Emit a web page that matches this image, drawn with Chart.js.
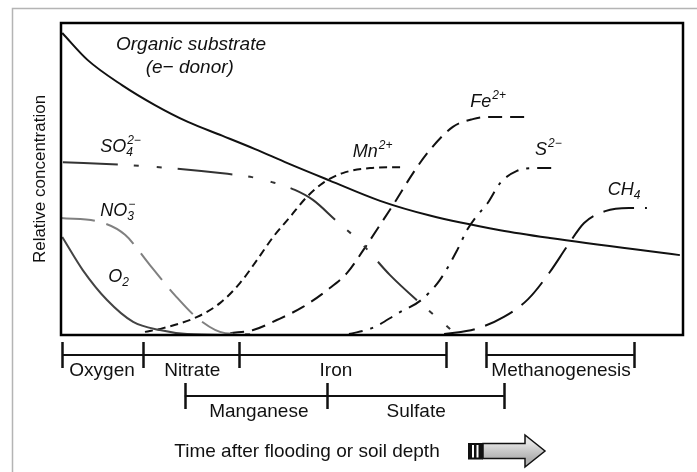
<!DOCTYPE html>
<html>
<head>
<meta charset="utf-8">
<script src="https://cdn.jsdelivr.net/npm/chart.js@4"></script>
<style>
  html, body { margin: 0; padding: 0; background: #fff; }
  canvas { display: block; }
</style>
</head>
<body>
<canvas id="chart" width="697" height="472"></canvas>
<script>
// Redox sequence after flooding, conceptual curves (x, y both 0..100)

const organicX = [0.2, 4.3, 9.8, 15.1, 20.4, 25.9, 31.2, 36.5, 43.2, 51.3, 59.3, 70.6, 78.6, 99.5];
const organicY = [96.8, 88.1, 80.1, 73.7, 68.3, 63.9, 59.6, 55.0, 49.5, 43.0, 38.3, 33.6, 31.1, 25.6];

const o2X = [0.2, 3.5, 7.4, 11.6, 15.9, 20.3, 28];
const o2Y = [31.4, 20.8, 11.2, 4.2, 1.6, 0.3, 0];

const no3X = [0, 6.3, 10.3, 14.3, 18.3, 22.3, 26.4, 30.4];
const no3Y = [37.5, 36.2, 32.1, 22.4, 12.8, 4.8, 0.6, 0.3];

const so4X = [0.3, 10.3, 17.5, 25.6, 30.7, 33.9, 37.6, 40.5, 44.1, 48.1, 52.9, 57.7, 60.9, 63.3];
const so4Y = [55.4, 54.5, 53.5, 51.9, 50.6, 49.0, 46.5, 43.3, 36.9, 29.8, 19.2, 10.3, 4.8, 0.6];

const mnX = [13.5, 16.4, 21.9, 25.6, 28.8, 31.5, 34.1, 36.8, 39.5, 42.1, 45.3, 49.7, 55.0];
const mnY = [1.0, 2.2, 5.8, 10.3, 16.7, 24.0, 31.4, 37.8, 44.2, 48.7, 51.9, 53.5, 53.8];

const feX = [27.2, 30.9, 34.7, 38.9, 42.8, 46.0, 48.6, 51.3, 54.0, 56.6, 59.3, 63.0, 66.2, 69.0, 75.1];
const feY = [0.6, 1.6, 4.8, 9.0, 14.4, 19.9, 27.2, 35.3, 43.6, 51.9, 59.3, 66.7, 69.2, 69.9, 69.9];

const sX = [46.3, 50.0, 54.3, 57.9, 60.9, 63.7, 65.3, 66.7, 68.6, 70.6, 73.3, 75.9, 79.9];
const sY = [0.3, 2.2, 7.1, 11.2, 17.6, 27.2, 33.7, 37.8, 42.3, 48.7, 52.6, 53.5, 53.5];

const ch4X = [61.6, 66.6, 71.2, 75.1, 78.6, 81.5, 84.1, 87.5, 91.3, 94.2];
const ch4Y = [0.3, 1.9, 5.8, 11.5, 20.2, 28.8, 35.9, 39.7, 40.7, 40.7];

// curve labels: [text, subscript, superscript, x, y(baseline)]
const curveLabels = [
  ['SO', '4', '2\u2212', 6.3, 58.7],
  ['NO', '3', '\u2212', 6.3, 38.1],
  ['O', '2', '', 7.6, 17.0],
  ['Mn', '', '2+', 46.9, 57.1],
  ['Fe', '', '2+', 65.8, 73.1],
  ['S', '', '2\u2212', 76.2, 57.7],
  ['CH', '4', '', 87.9, 44.9]
];

// phase bars below the plot
const row1Bars = [[0.2, 61.9], [68.3, 92.1]];
const row1Ticks = [0.2, 13.2, 28.6, 61.9, 68.3, 92.1];
const row1Labels = ['Oxygen', 'Nitrate', 'Iron', 'Methanogenesis'];
const row1LabelX = [6.6, 21.1, 44.2, 80.4];

const row2Bars = [[19.9, 71.2]];
const row2Ticks = [19.9, 42.8, 71.2];
const row2Labels = ['Manganese', 'Sulfate'];
const row2LabelX = [31.8, 57.1];

function pts(xs, ys) {
  return xs.map((x, i) => ({x: x, y: ys[i]}));
}

function series(xs, ys, color, dash) {
  return {
    data: pts(xs, ys),
    borderColor: color,
    borderWidth: 2,
    borderDash: dash,
    pointRadius: 0,
    cubicInterpolationMode: 'monotone',
    fill: false
  };
}

const FONT = '"Liberation Sans", Arial, sans-serif';

function drawChem(ctx, x, y, base, sub, sup) {
  ctx.font = 'italic 18px ' + FONT;
  ctx.textAlign = 'left';
  ctx.textBaseline = 'alphabetic';
  ctx.fillText(base, x, y);
  const w = ctx.measureText(base).width;
  ctx.font = 'italic 12px ' + FONT;
  if (sub) ctx.fillText(sub, x + w, y + 4);
  if (sup) ctx.fillText(sup, x + w + 1, y - 8);
}

const annotations = {
  id: 'annotations',
  afterDraw(chart) {
    const ctx = chart.ctx;
    const xs = chart.scales.x, ys = chart.scales.y;
    const a = chart.chartArea;
    ctx.save();

    // outer frame
    ctx.strokeStyle = '#b4b4b4';
    ctx.lineWidth = 1.5;
    ctx.beginPath();
    ctx.moveTo(12.5, 472);
    ctx.lineTo(12.5, 8.5);
    ctx.lineTo(697, 8.5);
    ctx.stroke();

    // plot box
    ctx.strokeStyle = '#000';
    ctx.lineWidth = 2.5;
    ctx.strokeRect(a.left, a.top, a.right - a.left, a.bottom - a.top);

    ctx.fillStyle = '#111';
    // organic substrate label
    ctx.font = 'italic 19px ' + FONT;
    ctx.textAlign = 'center';
    ctx.textBaseline = 'middle';
    ctx.fillText('Organic substrate', xs.getPixelForValue(20.9), ys.getPixelForValue(92.9));
    ctx.fillText('(e\u2212 donor)', xs.getPixelForValue(20.7), ys.getPixelForValue(85.6));

    curveLabels.forEach(l => {
      drawChem(ctx, xs.getPixelForValue(l[3]), ys.getPixelForValue(l[4]), l[0], l[1], l[2]);
    });

    // y axis title
    ctx.save();
    ctx.translate(a.left - 21, (a.top + a.bottom) / 2);
    ctx.rotate(-Math.PI / 2);
    ctx.font = '17px ' + FONT;
    ctx.textAlign = 'center';
    ctx.textBaseline = 'middle';
    ctx.fillText('Relative concentration', 0, 0);
    ctx.restore();

    // phase bars
    function row(bars, ticks, labels, labelX, yLine, yText) {
      ctx.strokeStyle = '#111';
      ctx.lineWidth = 2;
      bars.forEach(b => {
        ctx.beginPath();
        ctx.moveTo(xs.getPixelForValue(b[0]), yLine);
        ctx.lineTo(xs.getPixelForValue(b[1]), yLine);
        ctx.stroke();
      });
      ctx.lineWidth = 2.5;
      ticks.forEach(t => {
        const px = Math.round(xs.getPixelForValue(t)) + 0.5;
        ctx.beginPath();
        ctx.moveTo(px, yLine - 13);
        ctx.lineTo(px, yLine + 13);
        ctx.stroke();
      });
      ctx.font = '19px ' + FONT;
      ctx.textAlign = 'center';
      ctx.textBaseline = 'alphabetic';
      labels.forEach((t, i) => ctx.fillText(t, xs.getPixelForValue(labelX[i]), yText));
    }
    row(row1Bars, row1Ticks, row1Labels, row1LabelX, a.bottom + 20, a.bottom + 41);
    row(row2Bars, row2Ticks, row2Labels, row2LabelX, a.bottom + 61, a.bottom + 82);

    // time title
    ctx.font = '19px ' + FONT;
    ctx.textAlign = 'center';
    ctx.fillText('Time after flooding or soil depth', 307, 457);

    // arrow
    const g = ctx.createLinearGradient(0, 443, 0, 459);
    g.addColorStop(0, '#e4e4e4');
    g.addColorStop(0.5, '#c8c8c8');
    g.addColorStop(1, '#b0b0b0');
    ctx.fillStyle = g;
    ctx.strokeStyle = '#111';
    ctx.lineWidth = 1.5;
    ctx.beginPath();
    ctx.moveTo(483, 443.5);
    ctx.lineTo(525, 443.5);
    ctx.lineTo(525, 435);
    ctx.lineTo(545, 451);
    ctx.lineTo(525, 467);
    ctx.lineTo(525, 458.5);
    ctx.lineTo(483, 458.5);
    ctx.closePath();
    ctx.fill();
    ctx.stroke();
    ctx.fillStyle = '#111';
    ctx.fillRect(468, 443, 15, 16.5);
    ctx.fillStyle = '#fff';
    ctx.fillRect(472, 445, 2, 12.5);
    ctx.fillRect(476.5, 445, 2, 12.5);
    ctx.restore();
  }
};

new Chart(document.getElementById('chart'), {
  type: 'line',
  data: {
    datasets: [
      series(organicX, organicY, '#111', []),
      series(o2X, o2Y, '#444', []),
      series(no3X, no3Y, '#808080', [34, 12]),
      series(so4X, so4Y, '#333', [55, 16, 5, 18, 5, 16]),
      series(mnX, mnY, '#111', [8, 5]),
      series(feX, feY, '#111', [14, 8]),
      series(sX, sY, '#111', [14, 8, 3, 8]),
      series(ch4X, ch4Y, '#111', [31, 11])
    ]
  },
  options: {
    responsive: false,
    animation: false,
    devicePixelRatio: 1,
    layout: { padding: { left: 61, top: 23, right: 14, bottom: 137 } },
    scales: {
      x: { type: 'linear', min: 0, max: 100, display: false },
      y: { min: 0, max: 100, display: false }
    },
    plugins: { legend: { display: false }, tooltip: { enabled: false } }
  },
  plugins: [annotations]
});
</script>
</body>
</html>
